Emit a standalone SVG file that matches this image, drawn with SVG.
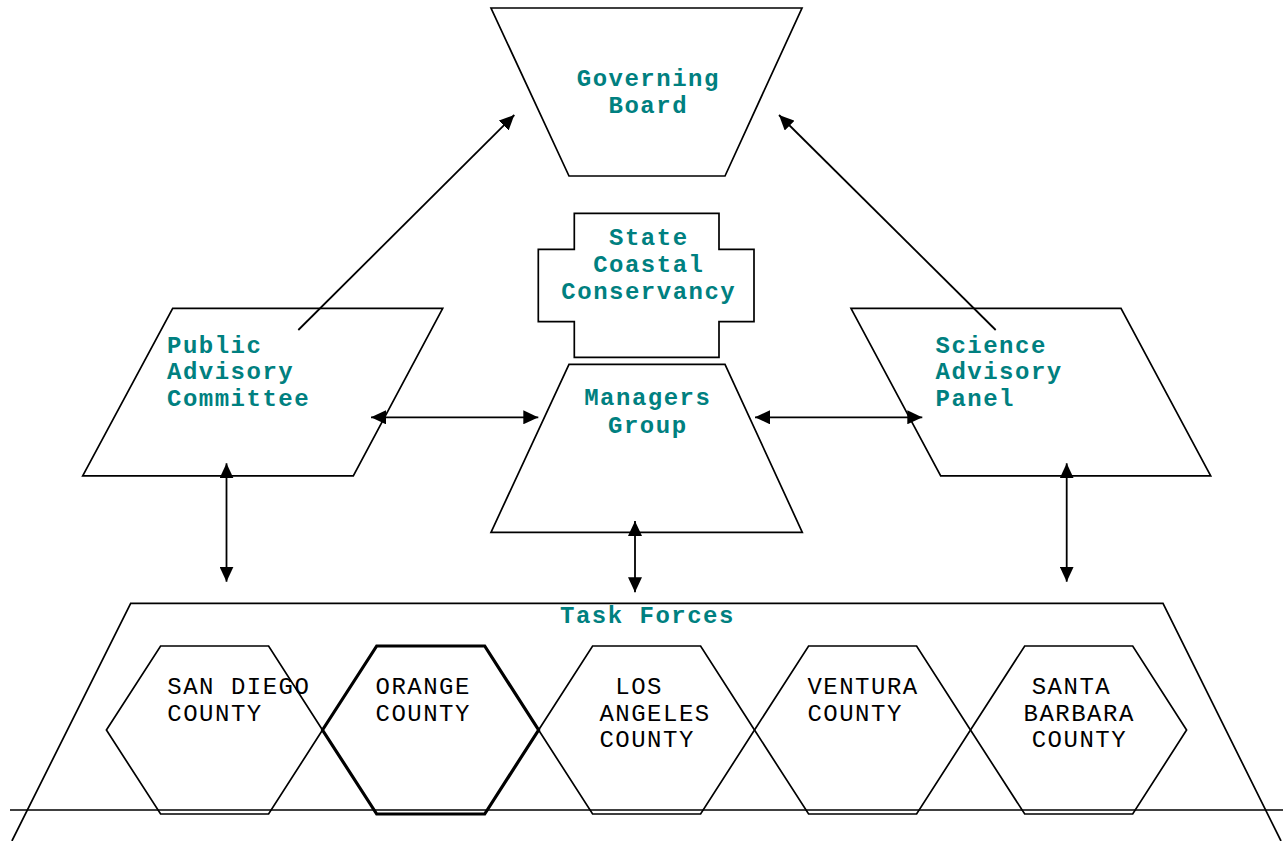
<svg xmlns="http://www.w3.org/2000/svg" width="1283" height="841" viewBox="0 0 1283 841">
<style>
.shape{fill:none;stroke:#000;stroke-width:1.7;stroke-linejoin:miter}
.thick{stroke-width:3.2}
.lbl{font-family:"Liberation Mono","Courier New",monospace;font-size:24px;letter-spacing:1.5px;font-weight:bold;fill:#008080}
.cty{font-family:"Liberation Mono","Courier New",monospace;font-size:24px;letter-spacing:1.5px;fill:#000}
.mid{text-anchor:middle}
.conn line{stroke:#000;stroke-width:1.8}
</style>
<defs>
<marker id="ah" viewBox="0 0 15 14" markerWidth="15" markerHeight="14" markerUnits="userSpaceOnUse" refX="15" refY="7" orient="auto-start-reverse">
<path d="M0,0 L15,7 L0,14 z" fill="#000"/>
</marker>
</defs>
<rect width="1283" height="841" fill="#fff"/>

<g id="governing-board">
<polygon class="shape" points="491,8 802,8 725,176 569,176"/>
<text class="lbl mid" x="648.3" y="85.5">Governing</text>
<text class="lbl mid" x="648.3" y="112.5">Board</text>
</g>

<g id="state-coastal-conservancy">
<polygon class="shape" points="574.3,213.3 719,213.3 719,249.3 754,249.3 754,321.7 719,321.7 719,357.3 574.3,357.3 574.3,321.7 538.3,321.7 538.3,249.3 574.3,249.3"/>
<text class="lbl mid" x="648.8" y="245">State</text>
<text class="lbl mid" x="648.8" y="272">Coastal</text>
<text class="lbl mid" x="648.8" y="299">Conservancy</text>
</g>

<g id="managers-group">
<polygon class="shape" points="569,364.3 725,364.3 802.3,532.3 491,532.3"/>
<text class="lbl mid" x="647.8" y="405">Managers</text>
<text class="lbl mid" x="647.8" y="432.5">Group</text>
</g>

<g id="public-advisory-committee">
<polygon class="shape" points="172.7,308.3 442.7,308.3 353.3,475.8 82.7,475.8"/>
<text class="lbl" x="167" y="352.7">Public</text>
<text class="lbl" x="167" y="379.4">Advisory</text>
<text class="lbl" x="167" y="406">Committee</text>
</g>

<g id="science-advisory-panel">
<polygon class="shape" points="851,308.3 1121,308.3 1210.7,475.8 940.7,475.8"/>
<text class="lbl" x="935.5" y="352.7">Science</text>
<text class="lbl" x="935.5" y="379.4">Advisory</text>
<text class="lbl" x="935.5" y="406">Panel</text>
</g>

<g id="task-forces">
<polyline class="shape" points="11.9,841 130.7,603.3 1163,603.3 1281,841"/>
<text class="lbl" x="560" y="623.3">Task Forces</text>
</g>

<g id="san-diego-county">
<polygon class="shape" points="106.4,730 160.6,646 268.6,646 322.5,730 268.6,814 160.6,814"/>
<text class="cty" x="167.3" y="694">SAN DIEGO</text>
<text class="cty" x="167.3" y="721">COUNTY</text>
</g>

<g id="orange-county">
<polygon class="shape thick" points="322.5,730 376.7,646 484.7,646 538.6,730 484.7,814 376.7,814"/>
<text class="cty" x="375.5" y="694">ORANGE</text>
<text class="cty" x="375.5" y="721">COUNTY</text>
</g>

<g id="los-angeles-county">
<polygon class="shape" points="538.6,730 592.6,646 700.6,646 754.5,730 700.6,814 592.6,814"/>
<text class="cty" x="615.3" y="694">LOS</text>
<text class="cty" x="599.4" y="720.5">ANGELES</text>
<text class="cty" x="599.4" y="747">COUNTY</text>
</g>

<g id="ventura-county">
<polygon class="shape" points="754.5,730 808.6,646 916.6,646 970.5,730 916.6,814 808.6,814"/>
<text class="cty" x="807.4" y="694">VENTURA</text>
<text class="cty" x="807.4" y="721">COUNTY</text>
</g>

<g id="santa-barbara-county">
<polygon class="shape" points="970.5,730 1024.7,646 1132.7,646 1186.6,730 1132.7,814 1024.7,814"/>
<text class="cty" x="1031.7" y="694">SANTA</text>
<text class="cty" x="1023.5" y="720.5">BARBARA</text>
<text class="cty" x="1031.7" y="747">COUNTY</text>
</g>

<g id="baseline">
<line x1="10" y1="810" x2="1283" y2="810" stroke="#000" stroke-width="1.7"/>
</g>

<g id="connectors" class="conn">
<line x1="298.3" y1="330" x2="514.3" y2="115" marker-end="url(#ah)"/>
<line x1="995.7" y1="330" x2="779" y2="115" marker-end="url(#ah)"/>
<line x1="371" y1="417.3" x2="538.3" y2="417.3" marker-start="url(#ah)" marker-end="url(#ah)"/>
<line x1="755" y1="417.3" x2="922.3" y2="417.3" marker-start="url(#ah)" marker-end="url(#ah)"/>
<line x1="226.5" y1="463.3" x2="226.5" y2="581.7" marker-start="url(#ah)" marker-end="url(#ah)"/>
<line x1="1066.7" y1="463.3" x2="1066.7" y2="581.7" marker-start="url(#ah)" marker-end="url(#ah)"/>
<line x1="635" y1="521" x2="635" y2="592.3" marker-start="url(#ah)" marker-end="url(#ah)"/>
</g>
</svg>
